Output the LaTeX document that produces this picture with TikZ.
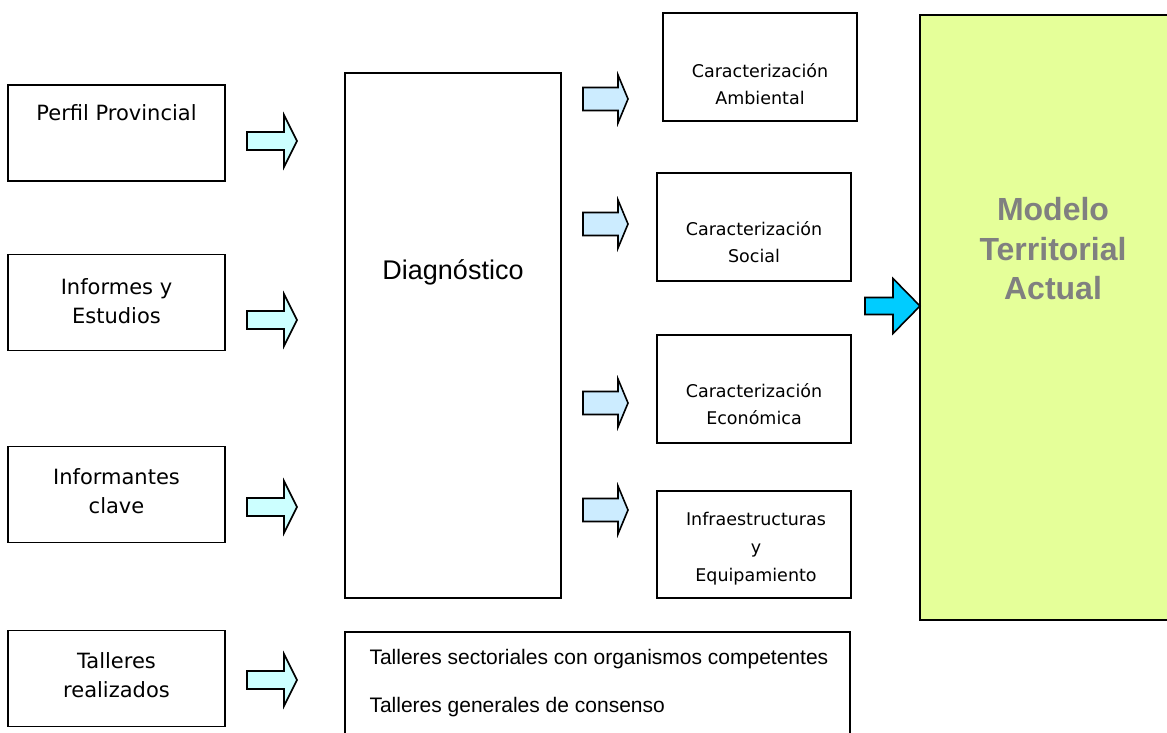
\documentclass[tikz,border=0pt]{standalone}
\usepackage{fontspec}
\setmainfont{DejaVu Sans}
\newfontfamily\arialfont{Liberation Sans}
\usepackage{tikz}
\usetikzlibrary{calc}
\definecolor{srcarrow}{HTML}{CCFFFF}
\definecolor{outarrow}{HTML}{CCECFF}
\definecolor{bigarrow}{HTML}{00CCFF}
\definecolor{modelfill}{HTML}{E5FF99}
\definecolor{modeltext}{HTML}{808080}
\newcommand{\blockarrow}[7]{
	\draw [arrowline,fill=#1] (#2,#3-#6)--(#4,#3-#6)--(#4,#3-#7)--(#5,#3)--(#4,#3+#7)--(#4,#3+#6)--(#2,#3+#6)--cycle;
}
\tikzset{
	box/.style={draw,line width=1.4pt,inner sep=0pt},
	srcbox/.style={box,minimum width=217pt,minimum height=96pt},
	outbox/.style={box,minimum width=194pt,minimum height=108pt},
	srctext/.style={align=center,font=\fontsize{21}{29}\selectfont},
	outtext/.style={align=center,font=\fontsize{17.5}{27}\selectfont},
	arrowline/.style={draw=black,line width=1.6pt,line join=miter}
}

\begin{document}
\begin{tikzpicture}[x=1pt,y=-1pt]
\useasboundingbox (0,0) rectangle (1167,733);

\node [srcbox] (perfil) at (116.5,133) {};
\node [srctext] (perfiltext) at ([yshift=20.5]perfil.center) {Perfil Provincial};
\node [srcbox] (informes) at (116.5,302.5) {};
\node [srctext] (informestext) at ([yshift=1.5]informes.center) {Informes y\\Estudios};
\node [srcbox] (informantes) at (116.5,494.5) {};
\node [srctext] (informantestext) at ([yshift=3.5]informantes.center) {Informantes\\clave};
\node [srcbox] (realizados) at (116.5,678.5) {};
\node [srctext] (realizadostext) at ([yshift=3.5]realizados.center) {Talleres\\realizados};

\node [box,minimum width=216pt,minimum height=525pt] (diag) at (453,335.5) {};
\node [font=\arialfont\fontsize{27}{30}\selectfont] (diagtext) at (453,272) {Diagnóstico};

\node [outbox] (ambiental) at (760,67) {};
\node [outtext] (ambientaltext) at ([yshift=-17]ambiental.center) {Caracterización\\Ambiental};
\node [outbox] (social) at (754,227) {};
\node [outtext] (socialtext) at ([yshift=-15]social.center) {Caracterización\\Social};
\node [outbox] (economica) at (754,389) {};
\node [outtext] (economicatext) at ([yshift=-15]economica.center) {Caracterización\\Económica};
\node [outbox,minimum height=107pt] (infra) at (754,544.5) {};
\node [outtext,font=\fontsize{17.5}{28}\selectfont] (infratext) at ([xshift=2,yshift=-4.5]infra.center) {Infraestructuras\\y\\Equipamiento};

\node [box,minimum width=505pt,minimum height=113pt] (talleres) at (597.5,688.5) {};
\node [anchor=west,font=\arialfont\fontsize{21}{24}\selectfont] (sectoriales) at (366,659) {Talleres sectoriales con organismos competentes};
\node [anchor=west,font=\arialfont\fontsize{21}{24}\selectfont] (consenso) at (366,707) {Talleres generales de consenso};

\node [box,fill=modelfill,minimum width=255pt,minimum height=605pt] (modelo) at (1047.5,317.5) {};
\node [align=center,text=modeltext,font=\arialfont\bfseries\fontsize{32}{39.5}\selectfont] (modelotext) at (1053,249) {Modelo\\Territorial\\Actual};

\foreach \y in {141,320,507,680} \blockarrow{srcarrow}{247}{\y}{284}{297}{9}{26};
\foreach \y in {99,224,403,510} \blockarrow{outarrow}{583}{\y}{618}{628}{11.5}{24};
\blockarrow{bigarrow}{865}{306}{893}{920}{8.5}{27.5};
\end{tikzpicture}
\end{document}
